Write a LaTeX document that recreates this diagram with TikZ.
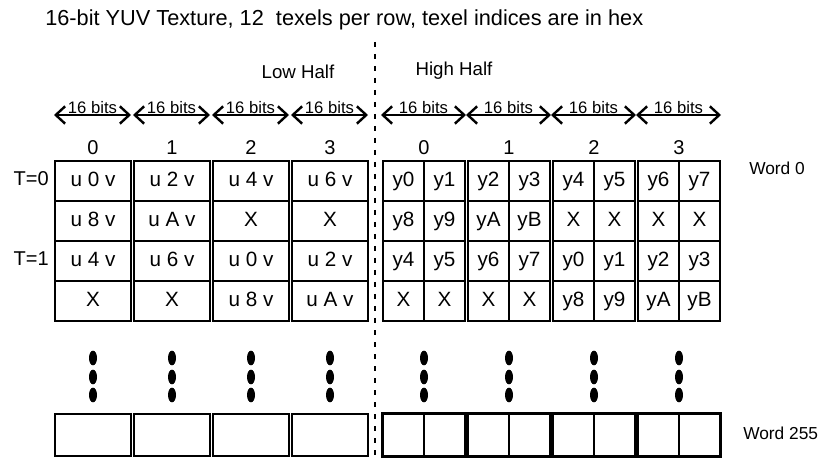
\documentclass[tikz,border=0pt]{standalone}
\usepackage{fontspec}
\setmainfont{Liberation Sans}
\usetikzlibrary{arrows.meta}

\begin{document}
\begin{tikzpicture}[
  x=0.75pt, y=-0.75pt,
  every node/.style={font=\fontsize{14}{16}\selectfont, inner sep=0pt},
  lcell/.style={draw, line width=1.1pt, minimum width=57pt, minimum height=30pt,
    text height=11.5pt, text depth=3.5pt, font=\fontsize{15.5}{17}\selectfont},
  hcell/.style={draw, line width=1.1pt, minimum width=30.75pt, minimum height=30pt,
    text height=11.5pt, text depth=3.5pt, font=\fontsize{15.5}{17}\selectfont},
  lblock/.style={draw, line width=2pt, minimum width=57pt, minimum height=120pt},
  hblock/.style={draw, line width=2pt, minimum width=61.5pt, minimum height=120pt},
  lword/.style={draw, line width=2pt, minimum width=57pt, minimum height=31.5pt},
  hword/.style={draw, line width=1.1pt, minimum width=30.75pt, minimum height=31.5pt},
  bits/.style={{Straight Barb[length=7pt,width=13pt]}-{Straight Barb[length=7pt,width=13pt]}, line width=1.8pt},
  bitlabel/.style={font=\fontsize{12.5}{14}\selectfont, above=0pt, pos=.5},
  side/.style={font=\fontsize{13}{15}\selectfont, anchor=west},
  dots/.style={fill=black}
]
  \useasboundingbox (0,0) rectangle (834,459);

  \node[anchor=west, font=\fontsize{16.3}{18}\selectfont] (title) at (45,20)
    {16-bit YUV Texture, 12\ \ texels per row, texel indices are in hex};
  \node (lowhalf) at (298,72) {Low Half};
  \node (highhalf) at (454,71) {High Half};

  % low half: one texel pair per 16 bits
  \foreach \t [count=\n from 0] in {u 0 v, u 2 v, u 4 v, u 6 v,
                                    u 8 v, u A v, X, X,
                                    u 4 v, u 6 v, u 0 v, u 2 v,
                                    X, X, u 8 v, u A v}
    \node[lcell] (l\n) at ({93+79*mod(\n,4)},{181+40*div(\n,4)}) {\t};

  % high half: two y per 16 bits
  \foreach \t [count=\n from 0] in {y0, y1, y2, y3, y4, y5, y6, y7,
                                    y8, y9, yA, yB, X, X, X, X,
                                    y4, y5, y6, y7, y0, y1, y2, y3,
                                    X, X, X, X, y8, y9, yA, yB}
    \node[hcell] (h\n) at ({403.5+85*div(mod(\n,8),2)+41*mod(\n,2)},{181+40*div(\n,8)}) {\t};

  \foreach \b in {0,...,3} {
    \node[lblock] (lb\b) at ({93+79*\b},241) {};
    \node[hblock] (hb\b) at ({424+85*\b},241) {};
    \node[font=\fontsize{15}{17}\selectfont] (ln\b) at ({93+79*\b},148) {\b};
    \node[font=\fontsize{15}{17}\selectfont] (hn\b) at ({424+85*\b},148) {\b};
    % 16 bits arrows
    \coordinate (las\b) at ({54+79*\b},115);
    \coordinate (lae\b) at ({131+79*\b},115);
    \coordinate (has\b) at ({381+85*\b},115);
    \coordinate (hae\b) at ({466+85*\b},115);
    \draw[bits] (las\b) -- (lae\b) node[bitlabel] {16 bits};
    \draw[bits] (has\b) -- (hae\b) node[bitlabel] {16 bits};
    % word 255
    \node[lword] (lw\b) at ({93+79*\b},435) {};
    \node[hword] (hwa\b) at ({403.5+85*\b},435) {};
    \node[hword] (hwb\b) at ({444.5+85*\b},435) {};
    \draw[line width=2pt] (hwa\b.north west) rectangle (hwb\b.south east);
    % vertical dots
    \fill[dots] ({93+79*\b},358) ellipse (3pt and 5.5pt);
    \fill[dots] ({93+79*\b},377) ellipse (3pt and 5.5pt);
    \fill[dots] ({93+79*\b},395) ellipse (3pt and 5.5pt);
    \fill[dots] ({424+85*\b},358) ellipse (3pt and 5.5pt);
    \fill[dots] ({424+85*\b},377) ellipse (3pt and 5.5pt);
    \fill[dots] ({424+85*\b},395) ellipse (3pt and 5.5pt);
  }

  \node[anchor=east, font=\fontsize{15}{17}\selectfont] (t0) at (49,179) {T=0};
  \node[anchor=east, font=\fontsize{15}{17}\selectfont] (t1) at (49,259) {T=1};
  \node[side] (w0) at (749,168) {Word 0};
  \node[side] (w255) at (743,433) {Word 255};

  \draw[line width=1.2pt, dash pattern=on 4pt off 5pt] (375,42) -- (375,456);
\end{tikzpicture}
\end{document}
